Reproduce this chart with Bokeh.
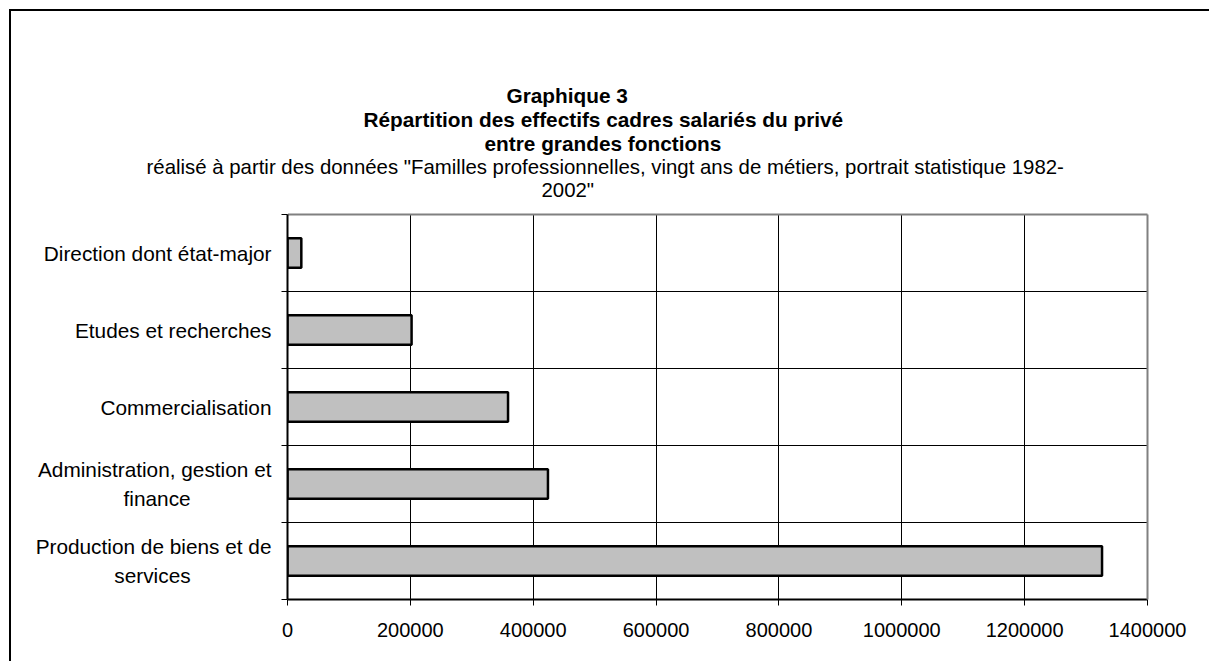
from bokeh.plotting import figure
from bokeh.models import (Range1d, FixedTicker, NumeralTickFormatter, LinearAxis,
                          Title, ColumnDataSource)
from bokeh.embed import file_html
from bokeh.resources import INLINE

# ---- data (bottom to top) ----
categories = ["Production de biens et de services",
              "Administration, gestion et finance",
              "Commercialisation",
              "Etudes et recherches",
              "Direction dont état-major"]
tick_labels = ["Production de biens et de\nservices" + "\u00a0" * 14,
               "Administration, gestion et\nfinance" + "\u00a0" * 14,
               "Commercialisation",
               "Etudes et recherches",
               "Direction dont état-major"]
effectifs = [1326000, 424000, 359000, 202000, 22500]
x_ticks = [0, 200000, 400000, 600000, 800000, 1000000, 1200000, 1400000]

title_lines = ["Graphique 3",
               "Répartition des effectifs cadres salariés du privé",
               "entre grandes fonctions",
               "réalisé à partir des données  \"Familles professionnelles, vingt ans de métiers, portrait statistique 1982-",
               "2002\""]
title_bold = [True, True, True, False, False]
title_offsets = [219, 76, 197, -141, 254]
title_sizes = ["20.8px", "20.8px", "20.8px", "20.4px", "20.4px"]

FONT = "Liberation Sans"
FS = "20.8px"
FS_TICK = "20px"

n = len(categories)
ypos = [i + 0.5 for i in range(n)]
src = ColumnDataSource(dict(y=ypos, v=effectifs, cat=categories))

p = figure(frame_width=860, frame_height=385,
           x_range=Range1d(0, x_ticks[-1]), y_range=Range1d(0, n),
           output_backend="svg", toolbar_location=None, tools="",
           title_location=None,
           min_border_left=276, min_border_right=62,
           min_border_top=203, min_border_bottom=62,
           background_fill_color="white", border_fill_color="white",
           outline_line_color=None)
p.styles = {"margin-left": "9px", "margin-top": "9px",
            "border-left": "2px solid #000000", "border-top": "2px solid #000000"}

# grid
p.xgrid.ticker = FixedTicker(ticks=x_ticks[1:-1])
p.xgrid.grid_line_color = "black"
p.xgrid.grid_line_width = 1
p.ygrid.ticker = FixedTicker(ticks=list(range(1, n)))
p.ygrid.grid_line_color = "black"
p.ygrid.grid_line_width = 1

# bars
p.hbar(y="y", right="v", left=0, height=0.38, source=src,
       fill_color="#C0C0C0", line_color="black", line_width=2.5)

# bottom axis
xa = p.xaxis[0]
xa.ticker = FixedTicker(ticks=x_ticks)
xa.formatter = NumeralTickFormatter(format="0")
xa.axis_line_color = "black"
xa.axis_line_width = 2
xa.major_tick_line_color = "black"
xa.major_tick_out = 6
xa.major_tick_in = 0
xa.minor_tick_line_color = None
xa.major_label_text_font = FONT
xa.major_label_text_font_size = FS_TICK
xa.major_label_text_color = "black"
xa.major_label_standoff = 17

# left axis: ticks at band boundaries, no labels
ya = p.yaxis[0]
ya.ticker = FixedTicker(ticks=list(range(0, n + 1)))
ya.major_label_overrides = {i: "" for i in range(0, n + 1)}
ya.axis_line_color = "black"
ya.axis_line_width = 2
ya.major_tick_line_color = "black"
ya.major_tick_out = 6
ya.major_tick_in = 0
ya.minor_tick_line_color = None
ya.major_label_text_font_size = "0px"
ya.major_label_standoff = 0

# second left axis: category names at band centres
ca = LinearAxis(ticker=FixedTicker(ticks=ypos),
                major_label_overrides={y: t for y, t in zip(ypos, tick_labels)},
                axis_line_color=None, major_tick_line_color=None,
                minor_tick_line_color=None, major_tick_out=0, major_tick_in=0,
                major_label_standoff=10, major_label_text_font=FONT,
                major_label_text_font_size=FS, major_label_text_color="black",
                major_label_text_line_height=1.22)
p.add_layout(ca, "left")

# top and right border of plot area (grey); the top one also spaces the titles
top_ax = LinearAxis(ticker=FixedTicker(ticks=[0]), major_label_overrides={0: ""},
                    axis_line_color="#808080", axis_line_width=2,
                    major_tick_line_color="white", major_tick_out=14,
                    major_tick_in=0, minor_tick_line_color=None,
                    major_label_text_font_size="0px", major_label_standoff=0)
p.add_layout(top_ax, "above")
right_ax = LinearAxis(ticker=FixedTicker(ticks=[]), axis_line_color="#808080",
                      axis_line_width=2, major_tick_line_color=None, major_tick_out=0,
                      major_tick_in=0, minor_tick_line_color=None,
                      major_label_text_font_size="0px", major_label_standoff=0)
p.add_layout(right_ax, "right")

# titles, nearest to the frame first
for t, b, off, fs in reversed(list(zip(title_lines, title_bold, title_offsets, title_sizes))):
    p.add_layout(Title(text=t, align="left", offset=off, standoff=-1,
                       vertical_align="bottom", text_font=FONT, text_font_size=fs,
                       text_font_style="bold" if b else "normal",
                       text_color="black"), "above")

open("out.html", "w").write(file_html(p, INLINE))
